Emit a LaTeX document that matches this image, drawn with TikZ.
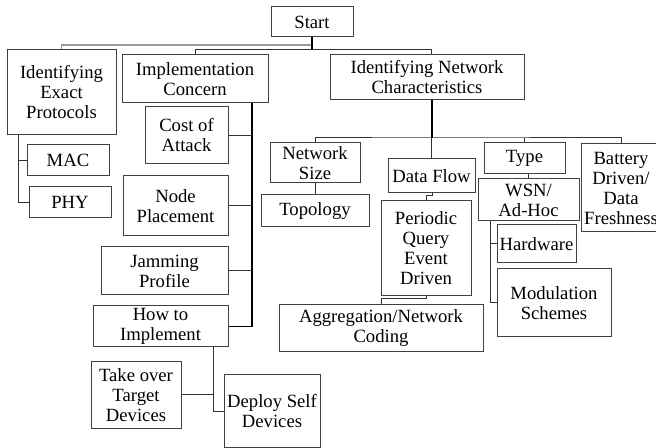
\documentclass[tikz,border=0pt]{standalone}
\usepackage{fontspec}
\setmainfont{Liberation Serif}
\usetikzlibrary{calc}
\newcommand\bx[6]{\node[box, minimum width={(#4-#2)*0.75pt}, minimum height={(#5-#3)*0.75pt}] (#1) at ({(#2+#4)/2},{(#3+#5)/2}) {#6};}
\begin{document}
\begin{tikzpicture}[x=0.75pt,y=-0.75pt,
  box/.style={draw=black!75, line width=0.75pt, inner sep=0pt, align=center, fill=white,
    font=\fontsize{14}{15}\selectfont},
  conn/.style={draw=black!80, line width=0.75pt},
  thick conn/.style={draw=black, line width=1.3pt},
  light conn/.style={draw=black!40, line width=1pt}]
\useasboundingbox (0,0) rectangle (656,448);
% boxes
\bx{Start}{271}{7}{353}{37}{Start}
\bx{IEP}{7}{50}{116}{135}{Identifying\\Exact\\Protocols}
\bx{IC}{122}{55}{268}{103}{Implementation\\Concern}
\bx{INC}{330}{55}{524}{100}{Identifying Network\\Characteristics}
\bx{MAC}{27}{145}{109}{176}{MAC}
\bx{PHY}{29}{187}{111}{218}{PHY}
\bx{Cost}{145}{107}{228}{164}{Cost of\\Attack}
\bx{NodeP}{123}{176}{228}{236}{Node\\Placement}
\bx{Jam}{101}{247}{228}{295}{Jamming\\Profile}
\bx{HowTo}{93}{306}{228}{347}{How to\\Implement}
\bx{Take}{91}{362}{181}{428}{Take over\\Target\\Devices}
\bx{Deploy}{224}{375}{320}{447}{Deploy Self\\Devices}
\bx{NetSize}{270}{143}{360}{183}{Network\\Size}
\bx{Topo}{261}{195}{369}{227}{Topology}
\bx{DataFlow}{388}{159}{475}{193}{Data Flow}
\bx{PQED}{381}{201}{471}{296}{Periodic\\Query\\Event\\Driven}
\bx{Agg}{279}{305}{483}{352}{Aggregation/Network\\Coding}
\bx{Type}{484}{143}{565}{174}{Type}
\bx{WSN}{478}{179}{579}{221}{WSN/\\Ad-Hoc}
\bx{Batt}{581}{144}{661}{232}{Battery\\Driven/\\Data\\Freshness}
\bx{HW}{497}{225}{576}{263}{Hardware}
\bx{Mod}{497}{269}{611}{337}{Modulation\\Schemes}
% junction coordinates
\coordinate (sj) at (312,50);
\coordinate (lj) at (312,45);
\coordinate (rj) at (431,50);
\coordinate (iepL) at (18,135);
\coordinate (icL) at (252,103);
\coordinate (howL) at (213,347);
\coordinate (incL) at (432,100);
\coordinate (ncL) at (432,138);
\coordinate (wsnL) at (490,221);
% top level
\draw[light conn] (lj) -| (IEP.north);
\draw[conn] (IC.north) |- (rj) -- (rj |- INC.north);
\draw[thick conn] (Start.south) -- (sj);
% left branch
\draw[conn] (iepL) |- (PHY.west);
\draw[conn] (MAC.west) -- (MAC.west -| iepL);
% implementation concern
\draw[thick conn] (icL) |- (HowTo.east);
\draw[conn] (Cost.east) -- (Cost.east -| icL);
\draw[conn] (NodeP.east) -- (NodeP.east -| icL);
\draw[conn] (Jam.east) -- (Jam.east -| icL);
% how to implement
\draw[conn] (howL) |- (Deploy.west);
\draw[conn] (Take.east) -- (Take.east -| howL);
% network characteristics
\draw[thick conn] (incL) -- (ncL);
\draw[conn] (NetSize.north) |- (ncL) -| (Batt.north);
\draw[conn] (DataFlow.north) -- (DataFlow.north |- ncL);
\draw[conn] (Type.north) -- (Type.north |- ncL);
\draw[conn] (NetSize.south) -- (Topo.north);
\draw[conn] (DataFlow.south -| 432,0) -- (432,196) -| (PQED.north);
\draw[conn] (PQED.south) -- (426,299) -| (Agg.north);
\draw[conn] (WSN.north) -- (WSN.north |- Type.south);
\draw[conn] (wsnL) |- (Mod.west);
\draw[conn] (HW.west) -- (HW.west -| wsnL);
\end{tikzpicture}
\end{document}
